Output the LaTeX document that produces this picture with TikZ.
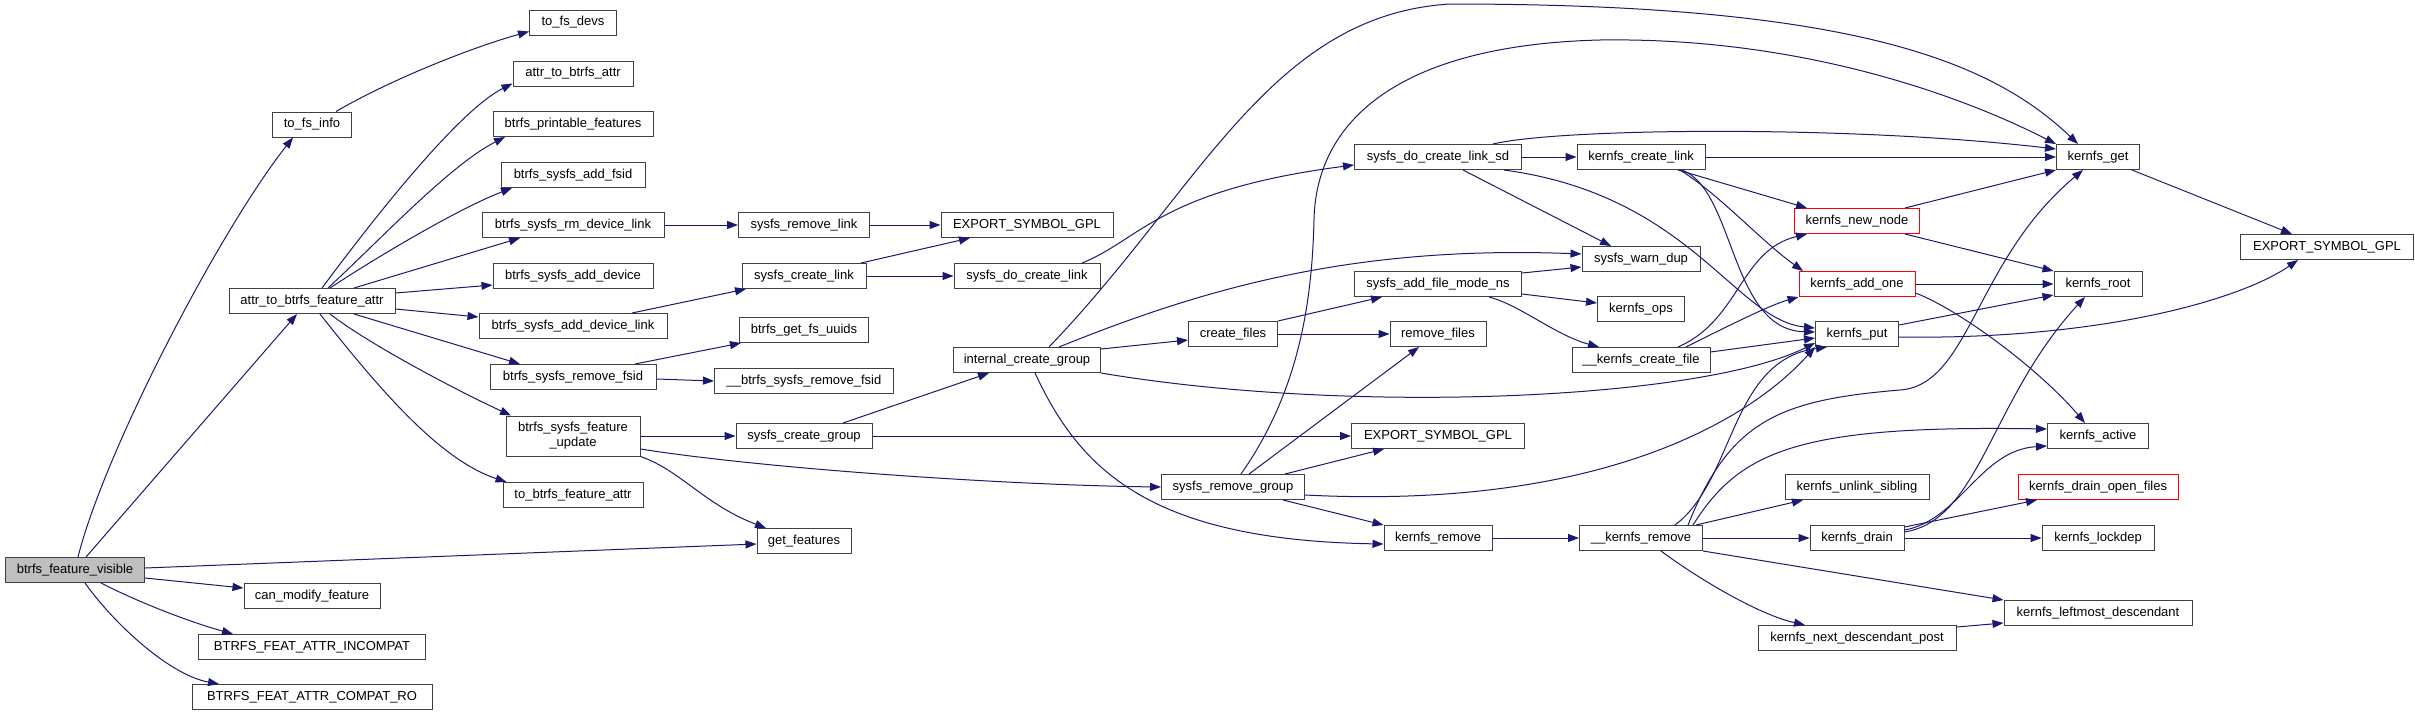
\documentclass[tikz,border=0pt]{standalone}
\usepackage{fontspec}
\setmainfont{Liberation Sans}
\usetikzlibrary{arrows.meta}

\definecolor{edgeblue}{RGB}{25,25,112}
\definecolor{boxgray}{RGB}{64,64,64}

\begin{document}
\begin{tikzpicture}[x=1pt, y=-1pt,
      fn/.style={draw=boxgray, line width=1pt, minimum height=25pt,
                 inner sep=0pt, align=center,
                 font=\fontsize{13}{15}\selectfont},
      trunc/.style={fn, draw=red},
      callarr/.style={-{Triangle[length=11pt, width=8pt]}, draw=edgeblue,
                      fill=none, line width=1pt}]
    \useasboundingbox (0,0) rectangle (2415,716);
    % column 1
    \node[fn, fill=black!25, minimum width=139pt] (bfv)    at (75,570)   {btrfs\_feature\_visible};
    % column 2
    \node[fn, minimum width=79pt]  (tofsinfo) at (312,124.5) {to\_fs\_info};
    \node[fn, minimum width=166pt] (atbfa)    at (312,301)   {attr\_to\_btrfs\_feature\_attr};
    \node[fn, minimum width=136pt] (canmod)   at (312,596)   {can\_modify\_feature};
    \node[fn, minimum width=227pt] (incompat) at (312,647)   {BTRFS\_FEAT\_ATTR\_INCOMPAT};
    \node[fn, minimum width=240pt] (compatro) at (312,697)   {BTRFS\_FEAT\_ATTR\_COMPAT\_RO};
    % column 3
    \node[fn, minimum width=87pt]  (tofsdevs)   at (573,22.5) {to\_fs\_devs};
    \node[fn, minimum width=120pt] (atba)       at (573,73.5) {attr\_to\_btrfs\_attr};
    \node[fn, minimum width=160pt] (printable)  at (573,124)  {btrfs\_printable\_features};
    \node[fn, minimum width=144pt] (addfsid)    at (573,175)  {btrfs\_sysfs\_add\_fsid};
    \node[fn, minimum width=182pt] (rmdevlink)  at (573,225)  {btrfs\_sysfs\_rm\_device\_link};
    \node[fn, minimum width=160pt] (adddevice)  at (573,276)  {btrfs\_sysfs\_add\_device};
    \node[fn, minimum width=188pt] (adddevlink) at (573,326)  {btrfs\_sysfs\_add\_device\_link};
    \node[fn, minimum width=166pt] (rmfsid)     at (573,377)  {btrfs\_sysfs\_remove\_fsid};
    \node[fn, minimum width=134pt, minimum height=40pt]
                                   (featupd)    at (573,436)  {btrfs\_sysfs\_feature\\\_update};
    \node[fn, minimum width=140pt] (tobfa)      at (573,495)  {to\_btrfs\_feature\_attr};
    % column 4
    \node[fn, minimum width=131pt] (rmlink)     at (804,225)  {sysfs\_remove\_link};
    \node[fn, minimum width=124pt] (createlink) at (804,276)  {sysfs\_create\_link};
    \node[fn, minimum width=129pt] (getuuids)   at (804,330)  {btrfs\_get\_fs\_uuids};
    \node[fn, minimum width=179pt] (rmfsid2)    at (804,381)  {\_\_btrfs\_sysfs\_remove\_fsid};
    \node[fn, minimum width=136pt] (creategrp)  at (804,436)  {sysfs\_create\_group};
    \node[fn, minimum width=94pt]  (getfeat)    at (804,541)  {get\_features};
    % column 5
    \node[fn, minimum width=172pt] (esg1)         at (1027,225) {EXPORT\_SYMBOL\_GPL};
    \node[fn, minimum width=146pt] (docreatelink) at (1027,276) {sysfs\_do\_create\_link};
    \node[fn, minimum width=147pt] (intcreate)    at (1027,360) {internal\_create\_group};
    % column 6
    \node[fn, minimum width=89pt]  (createfiles) at (1233,334) {create\_files};
    \node[fn, minimum width=143pt] (rmgroup)     at (1233,487) {sysfs\_remove\_group};
    % column 7
    \node[fn, minimum width=167pt] (linksd)  at (1438,157) {sysfs\_do\_create\_link\_sd};
    \node[fn, minimum width=167pt] (addfile) at (1438,284) {sysfs\_add\_file\_mode\_ns};
    \node[fn, minimum width=96pt]  (rmfiles) at (1438,334) {remove\_files};
    \node[fn, minimum width=173pt] (esg2)    at (1438,436) {EXPORT\_SYMBOL\_GPL};
    \node[fn, minimum width=108pt] (kremove) at (1438,538) {kernfs\_remove};
    % column 8
    \node[fn, minimum width=128pt] (kcreatelink) at (1641,157) {kernfs\_create\_link};
    \node[fn, minimum width=118pt] (warndup)     at (1641,259) {sysfs\_warn\_dup};
    \node[fn, minimum width=87pt]  (kops)        at (1641,309) {kernfs\_ops};
    \node[fn, minimum width=138pt] (kcreatefile) at (1641,360) {\_\_kernfs\_create\_file};
    \node[fn, minimum width=123pt] (kremove2)    at (1641,538) {\_\_kernfs\_remove};
    % column 9
    \node[trunc, minimum width=125pt] (knewnode)  at (1857,221) {kernfs\_new\_node};
    \node[trunc, minimum width=116pt] (kaddone)   at (1857,284) {kernfs\_add\_one};
    \node[fn, minimum width=83pt]     (kput)      at (1857,334) {kernfs\_put};
    \node[fn, minimum width=144pt]    (kunlink)   at (1857,487) {kernfs\_unlink\_sibling};
    \node[fn, minimum width=94pt]     (kdrain)    at (1857,538) {kernfs\_drain};
    \node[fn, minimum width=198pt]    (knextdesc) at (1857,638) {kernfs\_next\_descendant\_post};
    % column 10
    \node[fn, minimum width=83pt]     (kget)       at (2098,157) {kernfs\_get};
    \node[fn, minimum width=88pt]     (kroot)      at (2098,284) {kernfs\_root};
    \node[fn, minimum width=101pt]    (kactive)    at (2098,436) {kernfs\_active};
    \node[trunc, minimum width=160pt] (kdrainopen) at (2098,487) {kernfs\_drain\_open\_files};
    \node[fn, minimum width=112pt]    (klockdep)   at (2098,538) {kernfs\_lockdep};
    \node[fn, minimum width=188pt]    (kleftmost)  at (2098,613) {kernfs\_leftmost\_descendant};
    % column 11
    \node[fn, minimum width=173pt] (esg3) at (2327,247) {EXPORT\_SYMBOL\_GPL};

    % calls of btrfs_feature_visible
    \draw[callarr] ([xshift=3pt]bfv.north) .. controls (105,450) and (220,230) .. ([xshift=-19pt]tofsinfo.south);
    \draw[callarr] ([xshift=11pt]bfv.north) -- ([xshift=-15pt]atbfa.south);
    \draw[callarr] ([yshift=2pt]bfv.east) -- ([yshift=-3pt]getfeat.west);
    \draw[callarr] ([yshift=-8pt]bfv.east) -- ([yshift=8pt]canmod.west);
    \draw[callarr] ([xshift=26pt]bfv.south) .. controls (140,603) and (190,622) .. ([xshift=-79pt]incompat.north);
    \draw[callarr] ([xshift=10pt]bfv.south) .. controls (115,625) and (170,675) .. ([xshift=-93pt]compatro.north);
    \draw[callarr] ([xshift=24pt]tofsinfo.north) .. controls (390,80) and (470,48) .. ([yshift=-9pt]tofsdevs.west);

    % calls of attr_to_btrfs_feature_attr
    \draw[callarr] ([xshift=10pt]atbfa.north) .. controls (380,210) and (460,110) .. ([yshift=3pt]atba.south west);
    \draw[callarr] ([xshift=16pt]atbfa.north) .. controls (380,240) and (450,165) .. ([xshift=-68pt]printable.south);
    \draw[callarr] ([xshift=18pt]atbfa.north) .. controls (380,255) and (460,208) .. ([xshift=-61pt]addfsid.south);
    \draw[callarr] ([xshift=42pt]atbfa.north) -- ([xshift=-53pt]rmdevlink.south);
    \draw[callarr] ([yshift=8pt]atbfa.east) -- ([yshift=-9pt]adddevice.west);
    \draw[callarr] ([yshift=-8pt]atbfa.east) -- ([yshift=9pt]adddevlink.west);
    \draw[callarr] ([xshift=42pt]atbfa.south) -- ([xshift=-53pt]rmfsid.north);
    \draw[callarr] ([xshift=18pt]atbfa.south) .. controls (370,345) and (460,392) .. ([xshift=-62pt]featupd.north);
    \draw[callarr] ([xshift=8pt]atbfa.south) .. controls (380,390) and (440,460) .. ([xshift=4pt]tobfa.north west);

    % btrfs_sysfs_* callees
    \draw[callarr] (rmdevlink) -- (rmlink);
    \draw[callarr] (rmlink) -- (esg1);
    \draw[callarr] ([xshift=59pt]adddevlink.north) -- ([xshift=-58pt]createlink.south);
    \draw[callarr] ([xshift=57pt]createlink.north) -- ([xshift=-57pt]esg1.south);
    \draw[callarr] (createlink) -- (docreatelink);
    \draw[callarr] ([xshift=62pt]rmfsid.north) -- ([xshift=-63pt]getuuids.south);
    \draw[callarr] ([yshift=-2pt]rmfsid.east) -- (rmfsid2.west);
    \draw[callarr] (featupd) -- (creategrp);
    \draw[callarr] ([yshift=-13pt]featupd.east) .. controls (760,468) and (1000,485) .. (rmgroup.west);
    \draw[callarr] (featupd.south east) .. controls (680,470) and (705,505) .. ([xshift=-38pt]getfeat.north);
    \draw[callarr] ([xshift=39pt]creategrp.north) -- ([xshift=-38pt]intcreate.south);
    \draw[callarr] (creategrp) -- (esg2);
    \draw[callarr] ([xshift=55pt]docreatelink.north) .. controls (1140,240) and (1160,190) .. ([yshift=-8pt]linksd.west);

    % internal_create_group
    \draw[callarr] ([xshift=22pt]intcreate.north) .. controls (1200,190) and (1270,15) .. (1450,4)
                   .. controls (1850,4) and (1990,60) .. ([xshift=-20pt]kget.north);
    \draw[callarr] ([xshift=32pt]intcreate.north) .. controls (1200,290) and (1350,245) .. ([yshift=5pt]warndup.west);
    \draw[callarr] ([yshift=11pt]intcreate.east) -- ([yshift=-6pt]createfiles.west);
    \draw[callarr] (intcreate.south east) .. controls (1350,415) and (1700,400) .. ([yshift=-9pt]kput.west);
    \draw[callarr] ([xshift=8pt]intcreate.south) .. controls (1080,470) and (1150,540) .. ([yshift=-6pt]kremove.west);
    \draw[callarr] (createfiles.north east) -- ([xshift=-56pt]addfile.south);
    \draw[callarr] (createfiles) -- (rmfiles);
    \draw[callarr] ([yshift=11pt]addfile.east) -- ([yshift=-8pt]warndup.west);
    \draw[callarr] ([yshift=-10pt]addfile.east) -- ([yshift=6pt]kops.west);
    \draw[callarr] ([xshift=51pt]addfile.south) .. controls (1520,305) and (1555,335) .. ([xshift=-42pt]kcreatefile.north);

    % sysfs_remove_group
    \draw[callarr] ([xshift=8pt]rmgroup.north) .. controls (1300,390) and (1312,300) .. (1314,220)
                   .. controls (1316,120) and (1400,45) .. (1600,40)
                   .. controls (1800,37) and (1960,95) .. (kget.north west);
    \draw[callarr] ([xshift=16pt]rmgroup.north) -- ([xshift=-19pt]rmfiles.south);
    \draw[callarr] ([xshift=52pt]rmgroup.north) -- ([xshift=-54pt]esg2.south);
    \draw[callarr] ([xshift=50pt]rmgroup.south) -- (kremove.north west);
    \draw[callarr] ([yshift=-8pt]rmgroup.east) .. controls (1600,510) and (1750,420) .. (kput.south west);
    \draw[callarr] (kremove) -- (kremove2);

    % sysfs_do_create_link_sd and kernfs_create_link
    \draw[callarr] (linksd) -- (kcreatelink);
    \draw[callarr] ([xshift=55pt]linksd.north) .. controls (1560,128) and (1850,125) .. ([yshift=8pt]kget.west);
    \draw[callarr] ([xshift=25pt]linksd.south) -- ([xshift=-30pt]warndup.north);
    \draw[callarr] ([xshift=66pt]linksd.south) .. controls (1690,195) and (1735,320) .. ([yshift=6pt]kput.west);
    \draw[callarr] (kcreatelink) -- (kget);
    \draw[callarr] ([xshift=37pt]kcreatelink.south) -- ([xshift=-50pt]knewnode.north);
    \draw[callarr] ([xshift=39pt]kcreatelink.south) .. controls (1720,195) and (1760,240) .. ([xshift=-54pt]kaddone.north);
    \draw[callarr] ([xshift=41pt]kcreatelink.south) .. controls (1735,190) and (1730,330) .. ([yshift=2pt]kput.west);

    % __kernfs_create_file
    \draw[callarr] ([xshift=37pt]kcreatefile.north) .. controls (1740,320) and (1740,250) .. ([xshift=-50pt]knewnode.south);
    \draw[callarr] ([xshift=45pt]kcreatefile.north) .. controls (1730,325) and (1770,305) .. (kaddone.south west);
    \draw[callarr] ([yshift=8pt]kcreatefile.east) -- ([yshift=-4pt]kput.west);

    % kernfs_new_node, kernfs_add_one, kernfs_put, kernfs_get
    \draw[callarr] ([xshift=48pt]knewnode.north) -- (kget.south west);
    \draw[callarr] ([xshift=48pt]knewnode.south) -- (kroot.north west);
    \draw[callarr] (kaddone) -- (kroot);
    \draw[callarr] ([yshift=-9pt]kaddone.east) .. controls (1960,310) and (2040,370) .. ([xshift=-13pt]kactive.north);
    \draw[callarr] ([yshift=9pt]kput.east) -- ([yshift=-11pt]kroot.west);
    \draw[callarr] ([yshift=-3pt]kput.east) .. controls (2100,340) and (2240,300) .. ([xshift=-29pt]esg3.south);
    \draw[callarr] ([xshift=34pt]kget.south) -- ([xshift=-35pt]esg3.north);

    % __kernfs_remove
    \draw[callarr] ([xshift=34pt]kremove2.north) .. controls (1735,480) and (1730,360) .. ([xshift=-30pt]kput.south);
    \draw[callarr] ([xshift=47pt]kremove2.north) .. controls (1730,420) and (1780,400) .. (1900,390)
                   .. controls (1970,385) and (1975,260) .. ([xshift=-15pt]kget.south);
    \draw[callarr] ([xshift=52pt]kremove2.north) .. controls (1740,450) and (1800,425) .. ([yshift=7pt]kactive.west);
    \draw[callarr] ([xshift=55pt]kremove2.north) -- ([xshift=-54pt]kunlink.south);
    \draw[callarr] (kremove2) -- (kdrain);
    \draw[callarr] (kremove2.south east) -- (kleftmost.north west);
    \draw[callarr] ([xshift=20pt]kremove2.south) .. controls (1700,580) and (1760,615) .. ([xshift=-52pt]knextdesc.north);

    % kernfs_drain
    \draw[callarr] ([yshift=11pt]kdrain.east) -- ([xshift=-61pt]kdrainopen.south);
    \draw[callarr] (kdrain) -- (klockdep);
    \draw[callarr] ([yshift=8pt]kdrain.east) .. controls (1960,520) and (1980,450) .. ([yshift=-10pt]kactive.west);
    \draw[callarr] ([yshift=6pt]kdrain.east) .. controls (1980,520) and (1990,400) .. ([xshift=-13pt]kroot.south);
    \draw[callarr] ([yshift=11pt]knextdesc.east) -- ([yshift=-10pt]kleftmost.west);
  \end{tikzpicture}
\end{document}
